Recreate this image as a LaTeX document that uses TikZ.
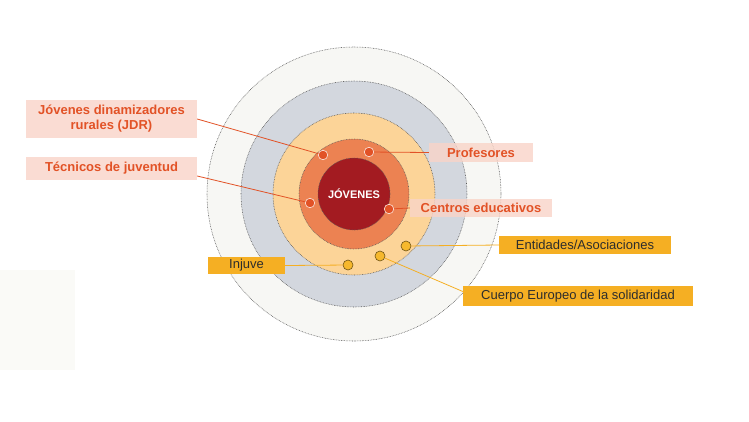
\documentclass[tikz,border=0pt]{standalone}
\usepackage{fontspec}
\setmainfont{Liberation Sans}
\definecolor{outerc}{RGB}{247,247,244}
\definecolor{greyc}{RGB}{211,215,222}
\definecolor{peachc}{RGB}{252,212,152}
\definecolor{orangec}{RGB}{236,130,82}
\definecolor{darkredc}{RGB}{163,27,33}
\definecolor{redtxt}{RGB}{226,82,38}
\definecolor{pinkc}{RGB}{249,212,200}
\definecolor{yellowc}{RGB}{245,175,35}
\definecolor{dotyel}{RGB}{246,184,45}
\definecolor{leftbg}{RGB}{250,250,247}
\definecolor{txtdark}{RGB}{45,45,45}
\tikzset{
  ring/.style={draw=black!65, line width=0.55pt, dash pattern=on 0.7pt off 0.9pt},
  reddot/.style={circle, fill=redtxt, draw=white!85!redtxt, line width=0.6pt, minimum size=9.5pt, inner sep=0pt},
  yeldot/.style={circle, fill=dotyel, draw=black!55!dotyel, line width=0.6pt, minimum size=10pt, inner sep=0pt},
  pinkbox/.style={fill=pinkc, fill opacity=0.8, text opacity=1, text=redtxt, font=\fontsize{13}{15}\selectfont\bfseries, align=center, inner sep=0pt},
  yelbox/.style={fill=yellowc, text=txtdark, font=\fontsize{13}{15}\selectfont, inner sep=0pt},
  redline/.style={draw=redtxt, line width=0.8pt},
  yelline/.style={draw=yellowc, line width=0.8pt}
}
\begin{document}
\begin{tikzpicture}[x=1pt,y=-1pt]
\useasboundingbox (0,0) rectangle (749,421);
\fill[white] (0,0) rectangle (749,421);
\fill[leftbg] (0,270) rectangle (75,370);
\coordinate (c) at (354,194);
\draw[ring, fill=outerc] (c) circle[radius=147];
\draw[ring, fill=greyc] (c) circle[radius=113];
\draw[ring, fill=peachc] (c) circle[radius=81];
\draw[ring, fill=orangec] (c) circle[radius=55];
\draw[ring, fill=darkredc] (c) circle[radius=36];
\node[text=white, font=\fontsize{11}{13}\selectfont\bfseries] (jov) at (c) {JÓVENES};

\node[reddot] (djdr) at (323,155) {};
\node[reddot] (dprof) at (369,152) {};
\node[reddot] (dtec) at (310,203) {};
\node[reddot] (dcen) at (389,209) {};
\node[yeldot] (dent) at (406,246) {};
\node[yeldot] (dcue) at (380,256) {};
\node[yeldot] (dinj) at (348,265) {};

\node[pinkbox, minimum width=171pt, minimum height=38pt] (ljdr) at (111.5,119) {Jóvenes dinamizadores\\rurales (JDR)};
\node[pinkbox, minimum width=171pt, minimum height=23pt] (ltec) at (111.5,168.5) {Técnicos de juventud};
\node[pinkbox, minimum width=104pt, minimum height=19pt] (lprof) at (481,152.5) {Profesores};
\node[pinkbox, minimum width=142pt, minimum height=18pt] (lcen) at (481,208) {Centros educativos};
\node[yelbox, minimum width=172pt, minimum height=18pt] (lent) at (585,245) {Entidades/Asociaciones};
\node[yelbox, minimum width=77pt, minimum height=17pt] (linj) at (246.5,265.5) {Injuve};
\node[yelbox, minimum width=230pt, minimum height=20pt] (lcue) at (578,296) {Cuerpo Europeo de la solidaridad};

\draw[redline] (ljdr.east) -- (djdr);
\draw[redline] ([yshift=-7.5pt]ltec.east) -- (dtec);
\draw[redline] (dprof) -- (lprof.west);
\draw[redline] (dcen) -- (lcen.west);
\draw[yelline] (dent) -- (lent.west);
\draw[yelline] (linj.east) -- (dinj);
\draw[yelline] (dcue) -- ([yshift=4.5pt]lcue.west);
\end{tikzpicture}
\end{document}
